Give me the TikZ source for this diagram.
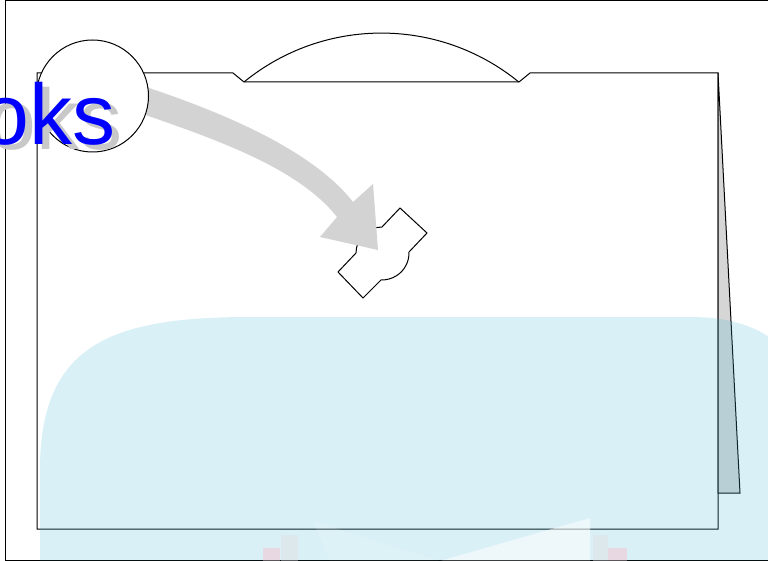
\documentclass[tikz,border=0pt]{standalone}
\usepackage{fontspec}
\setmainfont{Liberation Sans}
\definecolor{arrowgray}{RGB}{211,211,211}
\definecolor{flapgray}{RGB}{214,214,214}
\definecolor{shadowc}{RGB}{200,200,200}
\definecolor{wmblue}{RGB}{65,180,210}
\definecolor{wmpink}{RGB}{232,216,226}
\definecolor{wmgray}{RGB}{220,232,236}
\tikzset{
  outline/.style={draw=black, line width=1pt, line join=miter},
  bigtext/.style={anchor=base west, inner sep=0pt, font=\fontsize{86}{92}\selectfont},
}
\begin{document}
\begin{tikzpicture}[x=1pt,y=-1pt]
\useasboundingbox (0,0) rectangle (768,561);
% outer frame
\draw[outline] (5,1) rectangle (790,560);
% card with tab
\draw[outline, fill=white] (37,73) -- (233,73) -- (244,82) -- (519,82) -- (530,73) -- (718,73) -- (718,529) -- (37,529) -- cycle;
\draw[outline] (244,82) arc[start angle=129.2, end angle=50.8, radius=217.4pt];
% side flap
\draw[outline, fill=flapgray] (718,73) -- (740,493) -- (718,493) -- cycle;
% satellite symbol
\draw[outline, fill=white] (400,208) -- (427,233) -- (409,252)
  arc[start angle=2, end angle=-92, radius=27pt] -- (363,298) -- (338,272) -- (356,253)
  arc[start angle=180, end angle=90, radius=26pt] -- cycle;
% curved grey arrow
\fill[arrowgray] (140,85) .. controls (213,109) and (310,147) .. (353,202) -- (373,184) -- (378,250) -- (320,237) -- (337,217) .. controls (297,166) and (208,137) .. (140,113) -- cycle;
% circle
\draw[outline, fill=white] (92.5,96) circle[radius=56pt];
% text with shadow
\node[bigtext, text=shadowc] (txtshadow) at (-11.5,150) {oks};
\node[bigtext, text=blue] (txt) at (-18.5,145) {oks};
% watermark
\fill[wmblue, fill opacity=0.2] (40,565) -- (40,470) .. controls (40,345) and (110,317) .. (250,317) -- (690,317) .. controls (745,317) and (775,335) .. (800,365) -- (800,565) -- cycle;
\fill[white, fill opacity=0.55] (440,561) -- (590,518) -- (590,561) -- cycle;
\fill[white, fill opacity=0.12] (313,521) -- (440,561) -- (330,561) -- cycle;
\fill[wmpink] (263,548) rectangle (280,561);
\fill[wmgray] (281,535) rectangle (298,561);
\fill[wmgray] (593,535) rectangle (608,561);
\fill[wmpink] (608,548) rectangle (627,561);
\draw[outline, draw opacity=0.6] (5,560) -- (790,560);
\end{tikzpicture}
\end{document}
